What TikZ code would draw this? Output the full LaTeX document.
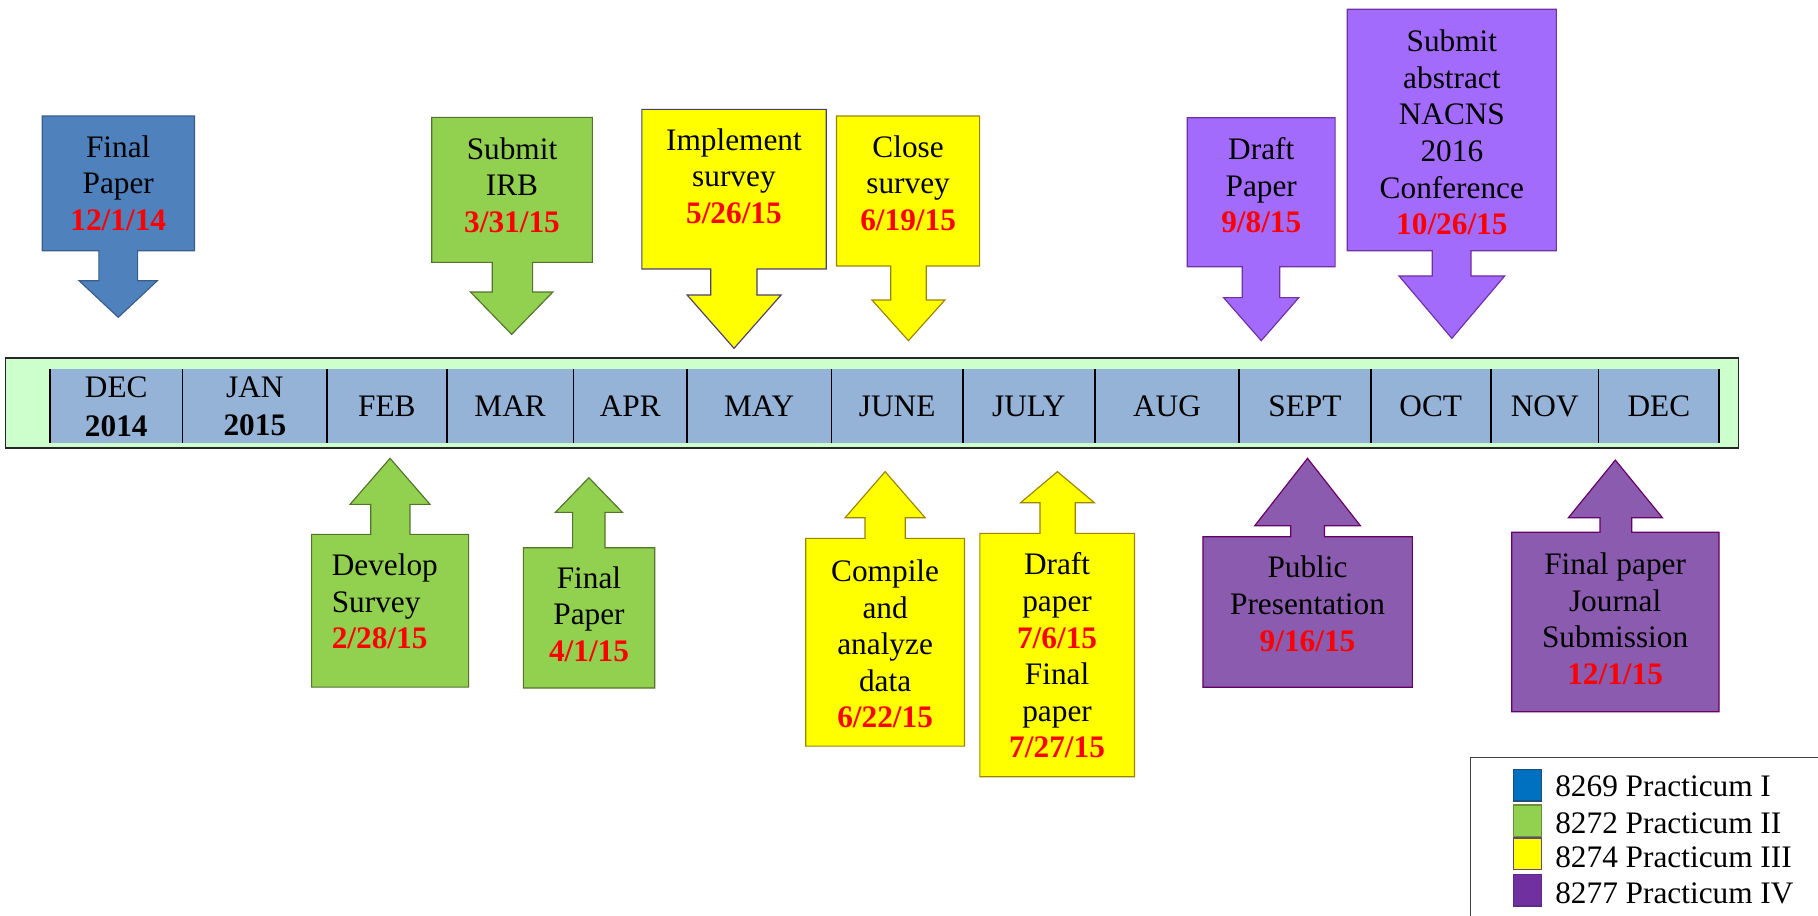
\documentclass[tikz,border=0pt]{standalone}
\usepackage{fontspec}
\setmainfont{Liberation Serif}
\definecolor{blueF}{HTML}{4F81BD}
\definecolor{blueD}{HTML}{385D8A}
\definecolor{greenF}{HTML}{92D050}
\definecolor{greenD}{HTML}{55732C}
\definecolor{yellowF}{HTML}{FFFF00}
\definecolor{yellowD}{HTML}{9C8400}
\definecolor{yellowP}{HTML}{4B4070}
\definecolor{lpurF}{HTML}{A36BFC}
\definecolor{lpurD}{HTML}{7030A0}
\definecolor{dpurF}{HTML}{8B5BAF}
\definecolor{dpurD}{HTML}{660066}
\definecolor{tlgreen}{HTML}{CCFFCC}
\definecolor{tlblue}{HTML}{95B3D7}
\definecolor{datered}{HTML}{FF0000}
\definecolor{legA}{HTML}{0070C0}
\definecolor{legAD}{HTML}{1F4E79}
\definecolor{legBD}{HTML}{6B8E3A}
\definecolor{legCD}{HTML}{604A7B}
\definecolor{legD}{HTML}{7030A0}
\definecolor{legDD}{HTML}{5E2A8A}
\newcommand\datetxt[1]{\textcolor{datered}{\bfseries #1}}
\begin{document}
\begin{tikzpicture}[x=1pt,y=-1pt,
  callout/.style={line width=1pt, line join=miter},
  bluecall/.style={callout, fill=blueF, draw=blueD},
  greencall/.style={callout, fill=greenF, draw=greenD},
  yellowcall/.style={callout, fill=yellowF, draw=yellowD},
  lpurcall/.style={callout, fill=lpurF, draw=lpurD},
  dpurcall/.style={callout, fill=dpurF, draw=dpurD},
  lbl/.style={font=\fontsize{27}{31.6}\selectfont, align=center, inner sep=0pt, anchor=north},
  month/.style={font=\fontsize{27}{33}\selectfont, align=center, inner sep=0pt},
  divider/.style={line width=1.3pt, draw=black},
  legsq/.style={minimum width=24.4pt, minimum height=27.4pt, inner sep=0pt, line width=1.3pt},
  legtxt/.style={font=\fontsize{27}{31.6}\selectfont, inner sep=0pt, anchor=base west}
]
\useasboundingbox (0,0) rectangle (1568,790);

% ---------- timeline ----------
\draw[fill=tlgreen, draw=black!85, line width=1.3pt] (4.9,308.7) rectangle (1499.3,386.4);
\fill[tlblue] (43,318.6) rectangle (1482.6,381.8);
\foreach \x in {43,157.6,282,385.4,494.5,592.6,717,830.6,944.2,1068.7,1182.3,1285.8,1378.8,1482.6}
  \draw[divider] (\x,318.6) -- (\x,381.8);
\node[month, anchor=north] (m1) at (100.3,325) {DEC\\\textbf{2014}};
\node[month, anchor=north] (m2) at (219.8,325) {JAN\\\textbf{2015}};
\foreach \cx/\nm/\i in {333.7/FEB/3,440/MAR/4,543.6/APR/5,654.8/MAY/6,773.8/JUNE/7,887.4/JULY/8,1006.5/AUG/9,1125.5/SEPT/10,1234/OCT/11,1332.3/NOV/12,1430.7/DEC/13}
  \node[month, anchor=base] (m\i) at (\cx,359) {\nm};

% ---------- top callouts (down arrows) ----------
\draw[bluecall] (36.5,100.1) -- (167.8,100.1) -- (167.8,216.2) -- (118.7,216.2) -- (118.7,242.1) -- (135.7,242.1) -- (102,273.7) -- (68.2,242.1) -- (85.3,242.1) -- (85.3,216.2) -- (36.5,216.2) -- cycle;
\node[lbl] (t1) at (102,116.5) {Final\\Paper\\\datetxt{12/1/14}};

\draw[greencall] (372.4,101.2) -- (510.9,101.2) -- (510.9,226.3) -- (459.4,226.3) -- (459.4,251.9) -- (476.8,251.9) -- (441.3,288.4) -- (405.8,251.9) -- (424.6,251.9) -- (424.6,226.3) -- (372.4,226.3) -- cycle;
\node[lbl] (t2) at (441.6,118.5) {Submit\\IRB\\\datetxt{3/31/15}};

\draw[callout, fill=yellowF, draw=yellowP] (553.6,94.3) -- (712.6,94.3) -- (712.6,232) -- (652.9,232) -- (652.9,254.4) -- (673.7,254.4) -- (633.1,300.4) -- (592.6,254.4) -- (613,254.4) -- (613,232) -- (553.6,232) -- cycle;
\node[lbl] (t3) at (633,110.5) {Implement\\survey\\\datetxt{5/26/15}};

\draw[yellowcall] (721.5,100.1) -- (844.9,100.1) -- (844.9,229.4) -- (798.9,229.4) -- (798.9,258.8) -- (814.9,258.8) -- (783.5,293.8) -- (752.1,258.8) -- (768.2,258.8) -- (768.2,229.4) -- (721.5,229.4) -- cycle;
\node[lbl] (t4) at (783.2,116.5) {Close\\survey\\\datetxt{6/19/15}};

\draw[lpurcall] (1024,101.5) -- (1151.5,101.5) -- (1151.5,230) -- (1103.8,230) -- (1103.8,256.7) -- (1120.2,256.7) -- (1087.8,293.8) -- (1055.3,256.7) -- (1071.4,256.7) -- (1071.4,230) -- (1024,230) -- cycle;
\node[lbl] (t5) at (1087.8,118.5) {Draft\\Paper\\\datetxt{9/8/15}};

\draw[lpurcall] (1162,8) -- (1342.3,8) -- (1342.3,216.2) -- (1268.7,216.2) -- (1268.7,238) -- (1297.8,238) -- (1252.2,291.8) -- (1206.6,238) -- (1235.3,238) -- (1235.3,216.2) -- (1162,216.2) -- cycle;
\node[lbl] (t6) at (1252.2,25.5) {Submit\\abstract\\NACNS\\2016\\Conference\\\datetxt{10/26/15}};

% ---------- bottom callouts (up arrows) ----------
\draw[greencall] (268.8,592.6) -- (404.2,592.6) -- (404.2,460.9) -- (353.6,460.9) -- (353.6,435) -- (370.9,435) -- (336.4,395.3) -- (301.9,435) -- (319.7,435) -- (319.7,460.9) -- (268.8,460.9) -- cycle;
\node[lbl, align=left, anchor=north west] (b1) at (286,477.5) {Develop\\Survey\\\datetxt{2/28/15}};

\draw[greencall] (451.4,593.4) -- (564.7,593.4) -- (564.7,472.4) -- (521.8,472.4) -- (521.8,441.9) -- (536.8,441.9) -- (507.9,412) -- (479,441.9) -- (493.9,441.9) -- (493.9,472.4) -- (451.4,472.4) -- cycle;
\node[lbl] (b2) at (508,488.5) {Final\\Paper\\\datetxt{4/1/15}};

\draw[yellowcall] (694.9,643.5) -- (831.9,643.5) -- (831.9,464.3) -- (780.8,464.3) -- (780.8,446.5) -- (797.9,446.5) -- (763.4,406.8) -- (728.9,446.5) -- (746.1,446.5) -- (746.1,464.3) -- (694.9,464.3) -- cycle;
\node[lbl] (b3) at (763.4,482.5) {Compile\\and\\analyze\\data\\\datetxt{6/22/15}};

\draw[yellowcall] (845.1,669.9) -- (978.5,669.9) -- (978.5,460) -- (927.4,460) -- (927.4,433.6) -- (943.9,433.6) -- (912,406.8) -- (880.2,433.6) -- (897,433.6) -- (897,460) -- (845.1,460) -- cycle;
\node[lbl] (b4) at (911.7,476.5) {Draft\\paper\\\datetxt{7/6/15}\\Final\\paper\\\datetxt{7/27/15}};

\draw[dpurcall] (1037.5,592.8) -- (1218.1,592.8) -- (1218.1,462.9) -- (1142.3,462.9) -- (1142.3,453.4) -- (1173.3,453.4) -- (1127.7,395.3) -- (1082.2,453.4) -- (1113.3,453.4) -- (1113.3,462.9) -- (1037.5,462.9) -- cycle;
\node[lbl] (b5) at (1127.7,479.5) {Public\\Presentation\\\datetxt{9/16/15}};

\draw[dpurcall] (1303.8,613.8) -- (1482.6,613.8) -- (1482.6,459.1) -- (1407.3,459.1) -- (1407.3,446.5) -- (1433.8,446.5) -- (1393.2,396.8) -- (1352.7,446.5) -- (1380,446.5) -- (1380,459.1) -- (1303.8,459.1) -- cycle;
\node[lbl] (b6) at (1393,476.5) {Final paper\\Journal\\Submission\\\datetxt{12/1/15}};

% ---------- legend ----------
\fill[white] (1268,653.2) rectangle (1568,790);
\draw[draw=black!75, line width=1pt] (1268,790) -- (1268,653.2) -- (1568,653.2);
\node[legsq, fill=legA, draw=legAD] (s1) at (1317.5,677.2) {};
\node[legsq, fill=greenF, draw=legBD] (s2) at (1317.5,708) {};
\node[legsq, fill=yellowF, draw=legCD] (s3) at (1317.5,736.4) {};
\node[legsq, fill=legD, draw=legDD] (s4) at (1317.5,767.8) {};
\node[legtxt] (l1) at (1341.2,687) {8269 Practicum I};
\node[legtxt] (l2) at (1341.2,718.5) {8272 Practicum II};
\node[legtxt] (l3) at (1341.2,748) {8274 Practicum III};
\node[legtxt] (l4) at (1341.2,779) {8277 Practicum IV};
\end{tikzpicture}
\end{document}
